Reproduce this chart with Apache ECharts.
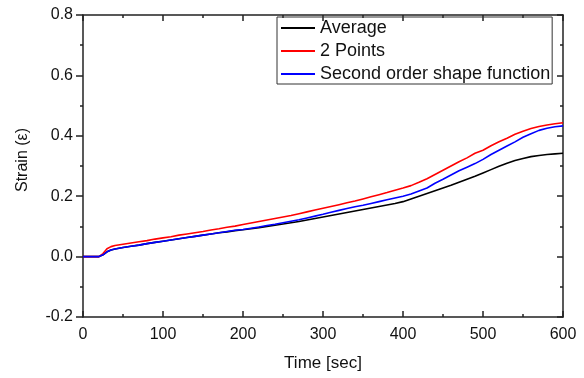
<!DOCTYPE html>
<html>
<head>
<meta charset="utf-8">
<script src="https://cdn.jsdelivr.net/npm/echarts@6/dist/echarts.min.js"></script>
<style>
  html, body { margin: 0; padding: 0; background: #fff; }
  #chart { width: 584px; height: 378px; }
</style>
</head>
<body>
<div id="chart"></div>
<script>
// time in seconds
const times = [0, 10, 20, 25, 30, 35, 40, 50, 60, 70, 80, 90, 100, 110, 120, 130, 140, 150, 160, 170, 180, 190, 200,
  210, 220, 230, 240, 250, 260, 270, 280, 290, 300, 310, 320, 330, 340, 350, 360, 370, 380, 390, 400,
  410, 420, 430, 440, 450, 460, 470, 480, 490, 500, 510, 520, 530, 540, 550, 560, 570, 580, 590, 600];

const average = [0, 0, 0, 0.006, 0.016, 0.022, 0.025, 0.030, 0.034, 0.038, 0.043, 0.047, 0.051, 0.055, 0.059, 0.063, 0.067, 0.071, 0.075, 0.079, 0.082, 0.086, 0.089,
  0.092, 0.096, 0.100, 0.104, 0.108, 0.112, 0.116, 0.121, 0.126, 0.131, 0.136, 0.141, 0.146, 0.151, 0.156, 0.161, 0.166, 0.171, 0.176, 0.182,
  0.191, 0.200, 0.209, 0.218, 0.227, 0.236, 0.246, 0.256, 0.266, 0.277, 0.288, 0.299, 0.309, 0.318, 0.325, 0.331, 0.335, 0.338, 0.340, 0.342];

const twoPoints = [0, 0, 0, 0.010, 0.026, 0.033, 0.037, 0.041, 0.045, 0.049, 0.053, 0.058, 0.062, 0.066, 0.071, 0.075, 0.079, 0.083, 0.088, 0.092, 0.097, 0.101, 0.106,
  0.111, 0.116, 0.121, 0.126, 0.131, 0.136, 0.142, 0.148, 0.154, 0.160, 0.166, 0.172, 0.178, 0.184, 0.191, 0.198, 0.205, 0.212, 0.220, 0.227,
  0.235, 0.246, 0.258, 0.272, 0.286, 0.300, 0.314, 0.327, 0.342, 0.352, 0.367, 0.380, 0.392, 0.405, 0.415, 0.424, 0.431, 0.436, 0.440, 0.443];

const secondOrder = [0, 0, 0, 0.006, 0.016, 0.022, 0.025, 0.030, 0.034, 0.038, 0.043, 0.047, 0.051, 0.055, 0.059, 0.063, 0.067, 0.071, 0.075, 0.079, 0.083, 0.087, 0.090,
  0.094, 0.098, 0.103, 0.107, 0.112, 0.117, 0.122, 0.128, 0.134, 0.140, 0.147, 0.153, 0.159, 0.165, 0.170, 0.176, 0.182, 0.188, 0.194, 0.200,
  0.207, 0.217, 0.227, 0.243, 0.256, 0.270, 0.284, 0.296, 0.308, 0.322, 0.338, 0.352, 0.366, 0.380, 0.395, 0.407, 0.418, 0.425, 0.430, 0.433];

const seriesNames = ['Average', '2 Points', 'Second order shape function'];
const seriesColors = ['#000000', '#ff0000', '#0000ff'];
const seriesValues = [average, twoPoints, secondOrder];

const font = 'Liberation Sans';
const axisColor = '#222';

const chart = echarts.init(document.getElementById('chart'));

const pair = (arr) => times.map((t, i) => [t, arr[i]]);

const frameAxis = (extra) => Object.assign({
  type: 'value',
  axisLine: { show: true, onZero: false, lineStyle: { color: axisColor, width: 1.5 } },
  axisTick: { show: true, inside: true, length: 6, lineStyle: { color: axisColor, width: 1.5 } },
  minorTick: { show: true, splitNumber: 2, length: 3, lineStyle: { color: axisColor, width: 1.5 } },
  splitLine: { show: false }
}, extra);

chart.setOption({
  animation: false,
  textStyle: { fontFamily: font },
  grid: { left: 83, top: 15, right: 21, bottom: 61 },
  legend: {
    orient: 'vertical',
    left: 277,
    top: 17,
    padding: [2, 2, 1, 4],
    itemGap: 5,
    itemWidth: 34,
    itemHeight: 2,
    icon: 'rect',
    borderColor: '#333',
    borderWidth: 1,
    textStyle: { fontSize: 18, color: '#111', fontFamily: font, lineHeight: 17 },
    data: seriesNames
  },
  xAxis: [frameAxis({
    min: 0, max: 600, interval: 100,
    name: 'Time [sec]',
    nameLocation: 'middle',
    nameGap: 38,
    nameTextStyle: { fontSize: 17, color: '#111', fontFamily: font },
    axisLabel: { fontSize: 16, color: '#111', margin: 10, fontFamily: font }
  }), frameAxis({
    position: 'top',
    min: 0, max: 600, interval: 100,
    axisLabel: { show: false }
  })],
  yAxis: [frameAxis({
    min: -0.2, max: 0.8, interval: 0.2,
    name: 'Strain (\u03b5)',
    nameLocation: 'middle',
    nameGap: 52,
    nameTextStyle: { fontSize: 16, color: '#111', fontFamily: font, padding: [0, 0, 0, 12] },
    axisTick: { show: true, inside: false, length: 7, lineStyle: { color: axisColor, width: 1.5 } },
    minorTick: { show: true, splitNumber: 2, length: 3, lineStyle: { color: axisColor, width: 1.5 } },
    axisLabel: { fontSize: 16, color: '#111', margin: 10, fontFamily: font, formatter: (v) => v.toFixed(1) }
  }), frameAxis({
    position: 'right',
    min: -0.2, max: 0.8, interval: 0.2,
    axisLabel: { show: false }
  })],
  series: seriesNames.map((name, i) => ({
    name: name,
    type: 'line',
    symbol: 'none',
    data: pair(seriesValues[i]),
    color: seriesColors[i],
    lineStyle: { color: seriesColors[i], width: 1.6 }
  }))
});
</script>
</body>
</html>
